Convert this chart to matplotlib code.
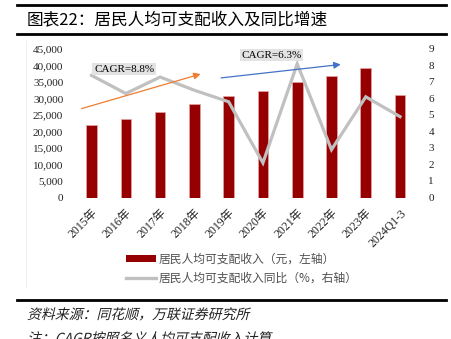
import matplotlib.pyplot as plt
from matplotlib.lines import Line2D
from matplotlib.patches import Patch, PathPatch
from matplotlib.textpath import TextPath
from matplotlib.font_manager import FontProperties
from matplotlib.transforms import Affine2D
import numpy as np

plt.rcParams['font.family'] = ['Liberation Serif', 'Noto Sans CJK SC', 'DejaVu Sans']

years = ['2015年', '2016年', '2017年', '2018年', '2019年', '2020年',
         '2021年', '2022年', '2023年', '2024Q1-3']
income = [21966, 23821, 25974, 28228, 30733, 32189, 35128, 36883, 39218, 30941]
growth = [7.4, 6.3, 7.3, 6.5, 5.8, 2.1, 8.1, 2.9, 6.1, 4.9]

bar_color = '#960000'
line_color = '#C0C0C0'

fig = plt.figure(figsize=(4.51, 3.39), dpi=100)

# header / footer rules
for y, x0 in [(0.984, 0.038), (0.900, 0.038), (0.115, 0.038)]:
    fig.add_artist(Line2D([x0, 0.99], [y, y], color='black', lw=2.0,
                          transform=fig.transFigure))
fig.add_artist(Line2D([0.057, 0.057], [0.15, 0.88], color='#EEEEEE', lw=0.6,
                      transform=fig.transFigure))

fig.text(0.06, 0.942, '图表22：居民人均可支配收入及同比增速', fontsize=12,
         family=['Noto Sans CJK SC'], weight='light', va='center', ha='left')

ax = fig.add_axes([0.165, 0.4174, 0.76, 0.4381])
x = np.arange(len(years))
ax.bar(x, income, width=0.31, color=bar_color, edgecolor='#E6A3A3',
       linewidth=0.5, zorder=2)
ax.set_xlim(-0.5, len(years) - 0.5)
ax.set_ylim(0, 45000)
ax.set_yticks(np.arange(0, 45001, 5000))
ax.set_yticklabels([f'{v:,}' for v in range(0, 45001, 5000)])
ax.set_xticks(x)
ax.set_xticklabels(years, rotation=45, ha='right', rotation_mode='anchor')
ax.tick_params(length=0, labelsize=8, colors='#222222')
ax.tick_params(axis='x', labelsize=8.5, pad=7)
ax.tick_params(axis='y', pad=8)
for s in ax.spines.values():
    s.set_visible(False)

ax2 = ax.twinx()
ax2.plot(x, growth, color=line_color, lw=2.3, solid_joinstyle='miter', zorder=3)
ax2.set_ylim(0, 9)
ax2.set_yticks(range(0, 10))
ax2.tick_params(length=0, labelsize=8, pad=8, colors='#222222')
for s in ax2.spines.values():
    s.set_visible(False)

# CAGR arrows and labels
ax2.annotate('', xy=(3.26, 7.53), xytext=(-0.37, 5.34),
             arrowprops=dict(arrowstyle='-|>', color='#ED7D31', lw=0.9,
                             mutation_scale=10))
ax2.annotate('', xy=(7.35, 8.08), xytext=(3.70, 7.23),
             arrowprops=dict(arrowstyle='-|>', color='#4472C4', lw=0.9,
                             mutation_scale=10))
box = dict(boxstyle='square,pad=0.15', facecolor='#E3E3E3', edgecolor='none')
ax2.text(0.95, 7.77, 'CAGR=8.8%', fontsize=8, ha='center', va='center',
         bbox=box, zorder=4)
ax2.text(5.25, 8.62, 'CAGR=6.3%', fontsize=8, ha='center', va='center',
         bbox=box, zorder=4)

handles = [Patch(facecolor=bar_color, edgecolor='none'),
           Line2D([], [], color=line_color, lw=2.4)]
labels = ['居民人均可支配收入（元，左轴）', '居民人均可支配收入同比（%，右轴）']
fig.legend(handles, labels, loc='upper left', bbox_to_anchor=(0.255, 0.285),
           frameon=False, handlelength=2.6, handleheight=0.5,
           handletextpad=0.2, labelspacing=0.5, labelcolor='#505050',
           prop={'family': ['Noto Sans CJK SC'], 'size': 8.5, 'weight': 'light'})


# slanted footer text, drawn as sheared glyph outlines
def slanted_text(s, x_px, y_px, size_pt):
    fp = FontProperties(family='Noto Sans CJK SC', weight='light')
    size_px = size_pt * fig.dpi / 72
    path = TextPath((0, 0), s, size=size_px, prop=fp)
    tr = Affine2D().skew_deg(14, 0).translate(x_px, y_px)
    fig.add_artist(PathPatch(path, transform=tr, facecolor='#222222',
                             edgecolor='none'))


slanted_text('资料来源：同花顺，万联证券研究所', 27, 339 - 319, 10)
slanted_text('注：CAGR按照名义人均可支配收入计算', 27, -4, 10)

fig.savefig('out.png', dpi=100)
